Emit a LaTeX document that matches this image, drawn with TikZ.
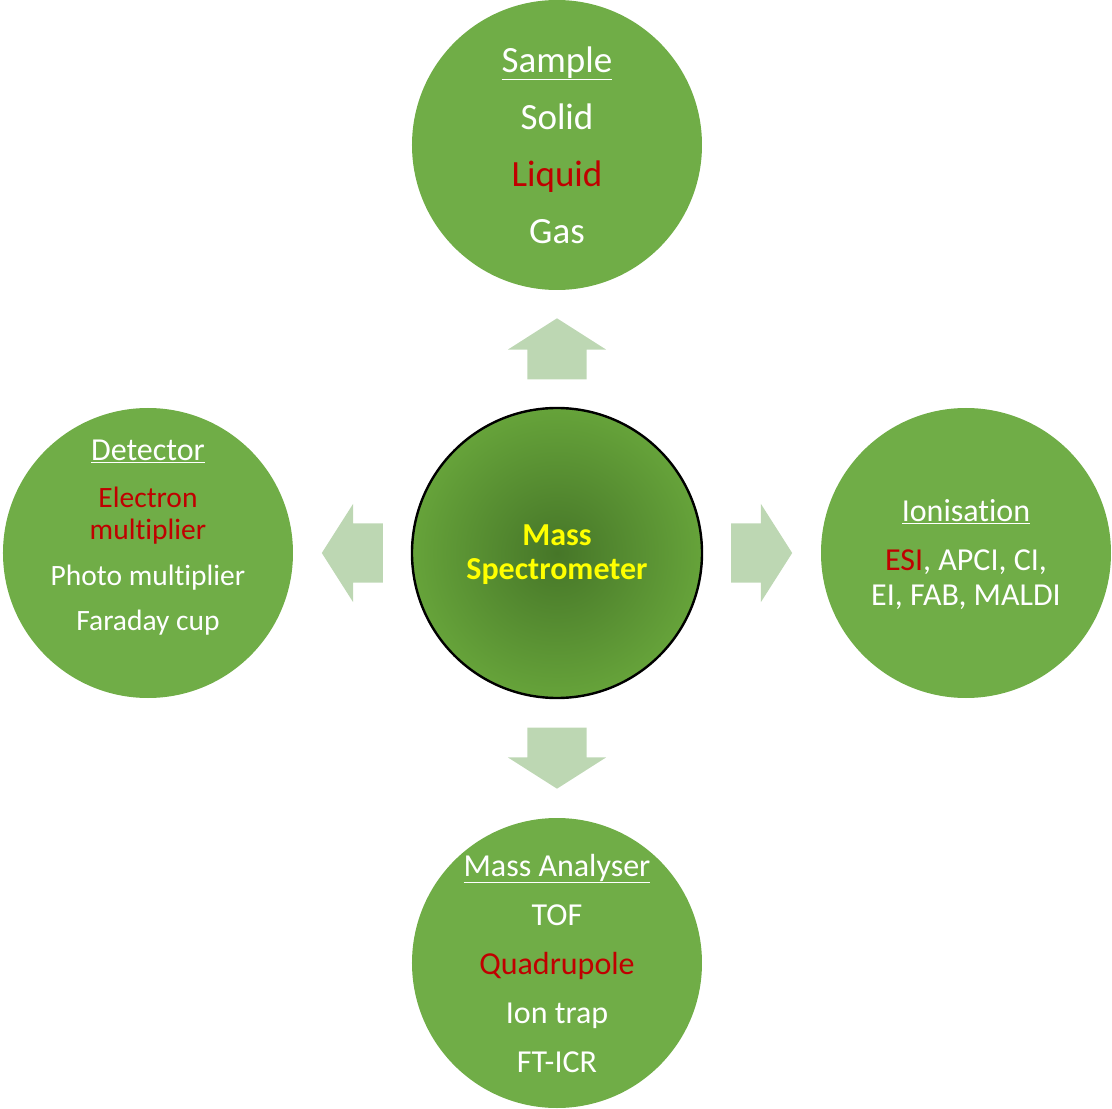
\documentclass[tikz,border=0pt]{standalone}
\usepackage{fontspec}
\setmainfont{Carlito}[Ligatures=NoCommon]
\usetikzlibrary{shapes.arrows,calc}
\definecolor{ringgreen}{RGB}{112,173,71}
\definecolor{palegreen}{RGB}{189,215,179}
\definecolor{darkred}{RGB}{192,0,0}
\definecolor{hubdark}{RGB}{70,118,40}
\definecolor{hubedge}{RGB}{102,163,58}
\definecolor{hubtext}{RGB}{255,255,0}
\tikzset{stage/.style={circle, fill=ringgreen, minimum size=290pt, inner sep=0pt},
	hub/.style={circle, draw=black, line width=2.4pt, inner color=hubdark,
		outer color=hubedge, minimum size=290pt, inner sep=0pt},
	stagetext/.style={align=center, text=white},
	flow/.style={single arrow, fill=palegreen, draw=none, anchor=tail,
		inner xsep=0pt, inner ysep=29.5pt, minimum height=61pt,
		single arrow head extend=19.5pt, single arrow tip angle=115}}
\begin{document}
\begin{tikzpicture}[x=1pt,y=1pt]
		\useasboundingbox (-557,-556) rectangle (555,553);
		% circles
		\node[hub](ms)at(0,0){};
		\node[stage](sample)at(0,408){};
		\node[stage](ion)at(409,0){};
		\node[stage](analyser)at(0,-410){};
		\node[stage](detector)at(-409,0){};
		
		% block arrows centred half way between the hub and each stage
		\node[flow,rotate=90](tosample)at($(ms)!0.5!(sample)+(0,-30.5)$){};
		\node[flow](toion)at($(ms)!0.5!(ion)+(-30.5,0)$){};
		\node[flow,rotate=-90](toanalyser)at($(ms)!0.5!(analyser)+(0,30.5)$){};
		\node[flow,rotate=180](todetector)at($(ms)!0.5!(detector)+(30.5,0)$){};
		
		% texts
		\node[align=center,text=hubtext,font=\bfseries\fontsize{32}{34}\selectfont](mstxt)at([yshift=-2]ms.center){Mass\\Spectrometer};
		\node[stagetext,font=\fontsize{37}{57}\selectfont](sampletxt)at(sample){\underline{Sample}\\Solid\\\textcolor{darkred}{Liquid}\\Gas};
		\node[stagetext,font=\fontsize{32}{35}\selectfont](iontxt)at([yshift=-2]ion.center){\underline{Ionisation}\\[14pt]\textcolor{darkred}{ESI}, APCI, CI,\\EI, FAB, MALDI};
		\node[stagetext,font=\fontsize{32}{49}\selectfont](analysertxt)at(analyser){\underline{Mass Analyser}\\TOF\\\textcolor{darkred}{Quadrupole}\\Ion trap\\FT-ICR};
		\node[stagetext,font=\fontsize{29.5}{32}\selectfont](detectortxt)at([yshift=15]detector.center){{\fontsize{32}{32}\selectfont\underline{Detector}}\\[15pt]\textcolor{darkred}{Electron}\\\textcolor{darkred}{multiplier}\\[14pt]Photo multiplier\\[13pt]Faraday cup};
\end{tikzpicture}
\end{document}
